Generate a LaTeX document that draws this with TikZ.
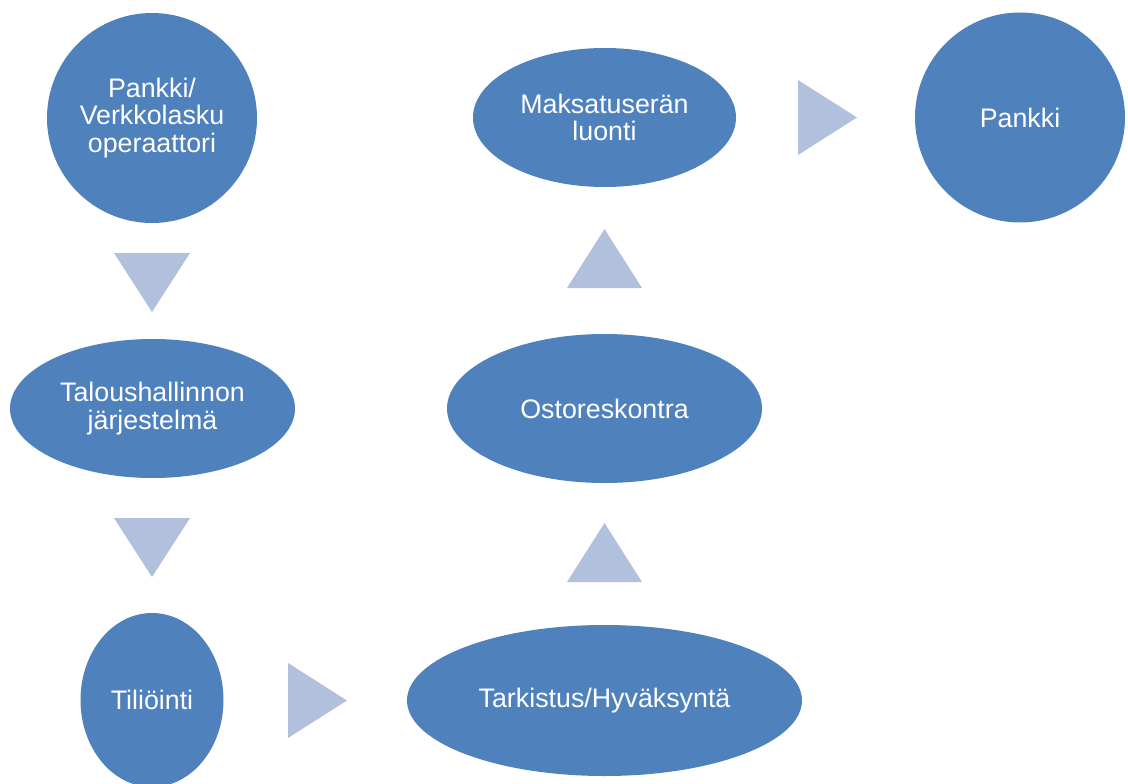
\documentclass[tikz,border=0pt]{standalone}
\usepackage{fontspec}
\setmainfont{Liberation Sans}
\usetikzlibrary{shapes.geometric}
\definecolor{nodeblue}{HTML}{4F81BD}
\definecolor{triblue}{HTML}{B1C1DD}
\begin{document}
\begin{tikzpicture}[x=1pt,y=-1pt,
  blob/.style={fill=nodeblue,draw=none,text=white,inner sep=0pt,align=center,
    font=\fontsize{26.8}{27.5}\selectfont},
  circ/.style={blob,circle,minimum size=210pt},
  ell/.style={blob,ellipse},
  tri/.style={fill=triblue,draw=none}]
\useasboundingbox (0,0) rectangle (1128,784);
\node[circ] (n1) at (152,118) {Pankki/\\Verkkolasku\\operaattori};
\node[ell,minimum width=285pt,minimum height=139pt] (n2) at (152.5,408.5) {Taloushallinnon\\järjestelmä};
\node[ell,minimum width=143pt,minimum height=174pt] (n3) at (152,700) {Tiliöinti};
\node[ell,minimum width=395pt,minimum height=151pt] (n4) at (604.5,700.5) {Tarkistus/Hyväksyntä};
\node[ell,minimum width=315pt,minimum height=149pt] (n5) at (604.5,408.5) {Ostoreskontra};
\node[ell,minimum width=263pt,minimum height=139pt] (n6) at (604.5,117.5) {Maksatuserän\\luonti};
\node[circ] (n7) at (1020,117.5) {Pankki};
% arrows (triangles)
\coordinate (t1) at (152,282.5);
\coordinate (t2) at (152,547.5);
\coordinate (t3) at (317.5,700.5);
\coordinate (t4) at (604.5,552.5);
\coordinate (t5) at (604.5,258.5);
\coordinate (t6) at (827.5,117.5);
\fill[tri] (t1) ++(-38,-29.5) -- ++(76,0) -- ++(-38,59) -- cycle;
\fill[tri] (t2) ++(-38,-29.5) -- ++(76,0) -- ++(-38,59) -- cycle;
\fill[tri] (t3) ++(-29.5,-37.5) -- ++(59,37.5) -- ++(-59,37.5) -- cycle;
\fill[tri] (t4) ++(-37.5,29.5) -- ++(75,0) -- ++(-37.5,-59) -- cycle;
\fill[tri] (t5) ++(-37.5,29.5) -- ++(75,0) -- ++(-37.5,-59) -- cycle;
\fill[tri] (t6) ++(-29.5,-37.5) -- ++(59,37.5) -- ++(-59,37.5) -- cycle;
\end{tikzpicture}
\end{document}
